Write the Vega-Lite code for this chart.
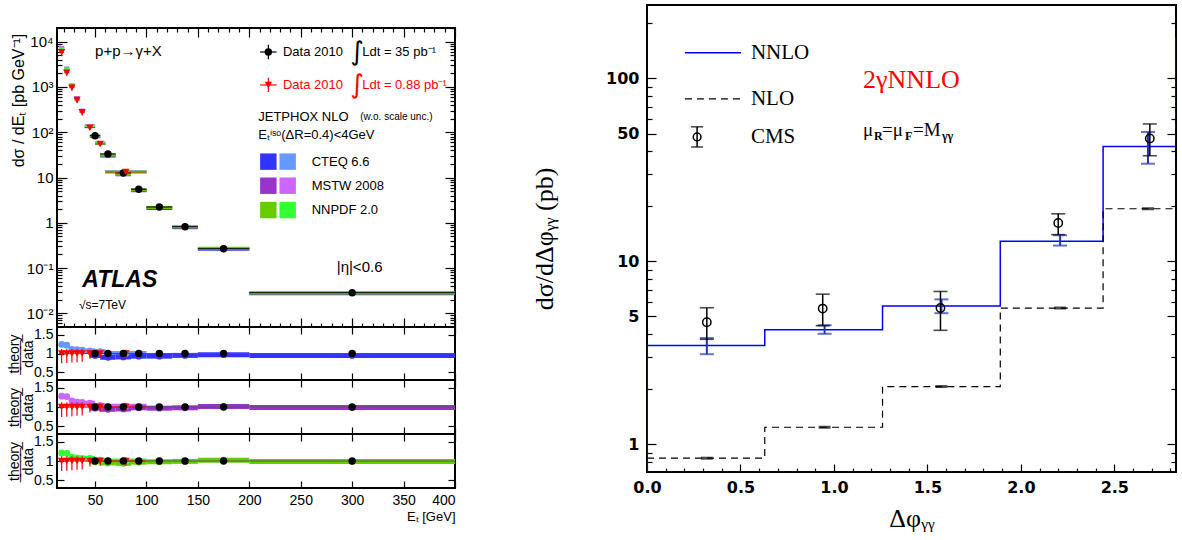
{
"$schema": "https://vega.github.io/schema/vega-lite/v6.json",
"background": "white",
"padding": {"left": 6, "top": 4, "right": 0, "bottom": 0},
"config": {
  "view": {"stroke": "black", "strokeWidth": 2},
  "axis": {"domain": false, "grid": false, "tickColor": "black", "labelColor": "black", "titleColor": "black", "tickWidth": 1.2, "labelOverlap": false}
},
"datasets": {
  "theory": [
    {"s":"cteq_l","pdf":"CTEQ","et":17.5,"xlo":15,"xhi":20,"val":7229,"ratio":1.24},
    {"s":"mstw_l","pdf":"MSTW","et":17.5,"xlo":15,"xhi":20,"val":7462,"ratio":1.28},
    {"s":"nnpdf_l","pdf":"NNPDF","et":17.5,"xlo":15,"xhi":20,"val":7054,"ratio":1.21},
    {"s":"cteq_l","pdf":"CTEQ","et":22.5,"xlo":20,"xhi":25,"val":2519,"ratio":1.22},
    {"s":"mstw_l","pdf":"MSTW","et":22.5,"xlo":20,"xhi":25,"val":2623,"ratio":1.27},
    {"s":"nnpdf_l","pdf":"NNPDF","et":22.5,"xlo":20,"xhi":25,"val":2478,"ratio":1.2},
    {"s":"cteq_l","pdf":"CTEQ","et":27.5,"xlo":25,"xhi":30,"val":1070,"ratio":1.11},
    {"s":"mstw_l","pdf":"MSTW","et":27.5,"xlo":25,"xhi":30,"val":1118,"ratio":1.16},
    {"s":"nnpdf_l","pdf":"NNPDF","et":27.5,"xlo":25,"xhi":30,"val":1060,"ratio":1.1},
    {"s":"cteq_l","pdf":"CTEQ","et":32.5,"xlo":30,"xhi":35,"val":567,"ratio":1.1},
    {"s":"mstw_l","pdf":"MSTW","et":32.5,"xlo":30,"xhi":35,"val":582,"ratio":1.13},
    {"s":"nnpdf_l","pdf":"NNPDF","et":32.5,"xlo":30,"xhi":35,"val":556,"ratio":1.08},
    {"s":"cteq_l","pdf":"CTEQ","et":37.5,"xlo":35,"xhi":40,"val":300,"ratio":1.09},
    {"s":"mstw_l","pdf":"MSTW","et":37.5,"xlo":35,"xhi":40,"val":308,"ratio":1.12},
    {"s":"nnpdf_l","pdf":"NNPDF","et":37.5,"xlo":35,"xhi":40,"val":294,"ratio":1.07},
    {"s":"cteq_l","pdf":"CTEQ","et":45,"xlo":40,"xhi":50,"val":135,"ratio":1.07},
    {"s":"mstw_l","pdf":"MSTW","et":45,"xlo":40,"xhi":50,"val":139,"ratio":1.1},
    {"s":"nnpdf_l","pdf":"NNPDF","et":45,"xlo":40,"xhi":50,"val":135,"ratio":1.07},
    {"s":"cteq_l","pdf":"CTEQ","et":55,"xlo":50,"xhi":60,"val":57.8,"ratio":1.05},
    {"s":"mstw_l","pdf":"MSTW","et":55,"xlo":50,"xhi":60,"val":57.2,"ratio":1.04},
    {"s":"nnpdf_l","pdf":"NNPDF","et":55,"xlo":50,"xhi":60,"val":56.1,"ratio":1.02},
    {"s":"cteq_l","pdf":"CTEQ","et":80,"xlo":60,"xhi":100,"val":13.2,"ratio":1.0},
    {"s":"mstw_l","pdf":"MSTW","et":80,"xlo":60,"xhi":100,"val":13.5,"ratio":1.02},
    {"s":"nnpdf_l","pdf":"NNPDF","et":80,"xlo":60,"xhi":100,"val":13.2,"ratio":1.0},
    {"s":"cteq_d","pdf":"CTEQ","et":50,"xlo":45,"xhi":55,"val":79.6,"ratio":0.95},
    {"s":"mstw_d","pdf":"MSTW","et":50,"xlo":45,"xhi":55,"val":81.3,"ratio":0.97},
    {"s":"nnpdf_d","pdf":"NNPDF","et":50,"xlo":45,"xhi":55,"val":82.1,"ratio":0.98},
    {"s":"cteq_d","pdf":"CTEQ","et":62.5,"xlo":55,"xhi":70,"val":29.8,"ratio":0.9},
    {"s":"mstw_d","pdf":"MSTW","et":62.5,"xlo":55,"xhi":70,"val":31.1,"ratio":0.94},
    {"s":"nnpdf_d","pdf":"NNPDF","et":62.5,"xlo":55,"xhi":70,"val":31.4,"ratio":0.95},
    {"s":"cteq_d","pdf":"CTEQ","et":77.5,"xlo":70,"xhi":85,"val":11.5,"ratio":0.91},
    {"s":"mstw_d","pdf":"MSTW","et":77.5,"xlo":70,"xhi":85,"val":12.0,"ratio":0.95},
    {"s":"nnpdf_d","pdf":"NNPDF","et":77.5,"xlo":70,"xhi":85,"val":11.8,"ratio":0.94},
    {"s":"cteq_d","pdf":"CTEQ","et":92.5,"xlo":85,"xhi":100,"val":5.11,"ratio":0.93},
    {"s":"mstw_d","pdf":"MSTW","et":92.5,"xlo":85,"xhi":100,"val":5.38,"ratio":0.98},
    {"s":"nnpdf_d","pdf":"NNPDF","et":92.5,"xlo":85,"xhi":100,"val":5.33,"ratio":0.97},
    {"s":"cteq_d","pdf":"CTEQ","et":112.5,"xlo":100,"xhi":125,"val":2.07,"ratio":0.93},
    {"s":"mstw_d","pdf":"MSTW","et":112.5,"xlo":100,"xhi":125,"val":2.16,"ratio":0.97},
    {"s":"nnpdf_d","pdf":"NNPDF","et":112.5,"xlo":100,"xhi":125,"val":2.19,"ratio":0.98},
    {"s":"cteq_d","pdf":"CTEQ","et":137.5,"xlo":125,"xhi":150,"val":0.779,"ratio":0.95},
    {"s":"mstw_d","pdf":"MSTW","et":137.5,"xlo":125,"xhi":150,"val":0.804,"ratio":0.98},
    {"s":"nnpdf_d","pdf":"NNPDF","et":137.5,"xlo":125,"xhi":150,"val":0.812,"ratio":0.99},
    {"s":"cteq_d","pdf":"CTEQ","et":175,"xlo":150,"xhi":200,"val":0.26,"ratio":0.97},
    {"s":"mstw_d","pdf":"MSTW","et":175,"xlo":150,"xhi":200,"val":0.271,"ratio":1.01},
    {"s":"nnpdf_d","pdf":"NNPDF","et":175,"xlo":150,"xhi":200,"val":0.273,"ratio":1.02},
    {"s":"cteq_d","pdf":"CTEQ","et":300,"xlo":200,"xhi":400,"val":0.0272,"ratio":0.95},
    {"s":"mstw_d","pdf":"MSTW","et":300,"xlo":200,"xhi":400,"val":0.0283,"ratio":0.99},
    {"s":"nnpdf_d","pdf":"NNPDF","et":300,"xlo":200,"xhi":400,"val":0.0283,"ratio":0.99}
  ],
  "pts": [
    {"set":"red","et":17.5,"xlo":15,"xhi":20,"val":5830,"elo":4950,"ehi":6700,"rlo":0.74,"rhi":1.12},
    {"set":"red","et":22.5,"xlo":20,"xhi":25,"val":2065,"elo":1750,"ehi":2380,"rlo":0.75,"rhi":1.12},
    {"set":"red","et":27.5,"xlo":25,"xhi":30,"val":964,"elo":820,"ehi":1110,"rlo":0.76,"rhi":1.12},
    {"set":"red","et":32.5,"xlo":30,"xhi":35,"val":515,"elo":440,"ehi":590,"rlo":0.77,"rhi":1.12},
    {"set":"red","et":37.5,"xlo":35,"xhi":40,"val":275,"elo":235,"ehi":315,"rlo":0.78,"rhi":1.12},
    {"set":"red","et":45,"xlo":40,"xhi":50,"val":126,"elo":112,"ehi":140,"rlo":0.86,"rhi":1.1},
    {"set":"red","et":55,"xlo":50,"xhi":60,"val":55,"elo":49,"ehi":61,"rlo":0.88,"rhi":1.09},
    {"set":"red","et":80,"xlo":60,"xhi":100,"val":13.2,"elo":12,"ehi":14.5,"rlo":0.88,"rhi":1.1},
    {"set":"black","et":50,"xlo":45,"xhi":55,"val":83.8,"elo":80,"ehi":88,"rlo":0.97,"rhi":1.03},
    {"set":"black","et":62.5,"xlo":55,"xhi":70,"val":33.1,"elo":31.6,"ehi":34.6,"rlo":0.97,"rhi":1.03},
    {"set":"black","et":77.5,"xlo":70,"xhi":85,"val":12.6,"elo":12.0,"ehi":13.2,"rlo":0.97,"rhi":1.03},
    {"set":"black","et":92.5,"xlo":85,"xhi":100,"val":5.49,"elo":5.24,"ehi":5.74,"rlo":0.97,"rhi":1.03},
    {"set":"black","et":112.5,"xlo":100,"xhi":125,"val":2.23,"elo":2.13,"ehi":2.33,"rlo":0.97,"rhi":1.03},
    {"set":"black","et":137.5,"xlo":125,"xhi":150,"val":0.82,"elo":0.78,"ehi":0.86,"rlo":0.97,"rhi":1.03},
    {"set":"black","et":175,"xlo":150,"xhi":200,"val":0.268,"elo":0.256,"ehi":0.28,"rlo":0.96,"rhi":1.04},
    {"set":"black","et":300,"xlo":200,"xhi":400,"val":0.0286,"elo":0.0272,"ehi":0.03,"rlo":0.95,"rhi":1.05}
  ],
  "nnlo": [
    {"i":0,"x":0,"y":0.5},{"i":1,"x":0,"y":3.47},{"i":2,"x":0.63,"y":4.23},{"i":3,"x":1.26,"y":5.71},
    {"i":4,"x":1.89,"y":12.9},{"i":5,"x":2.44,"y":42.5},{"i":6,"x":2.83,"y":167},{"i":7,"x":3.2,"y":167}
  ],
  "nlo": [
    {"i":0,"x":0,"y":0.84},{"i":1,"x":0.63,"y":1.24},{"i":2,"x":1.26,"y":2.07},{"i":3,"x":1.89,"y":5.56},
    {"i":4,"x":2.44,"y":19.4},{"i":5,"x":2.83,"y":60},{"i":6,"x":3.2,"y":60}
  ],
  "bins": [
    {"xn":0.32,"xc":0.32,"nlo":0.84,"lo":3.11,"hi":3.81,"cms":4.65,"clo":3.75,"chi":5.58},
    {"xn":0.95,"xc":0.94,"nlo":1.24,"lo":4.02,"hi":4.48,"cms":5.52,"clo":4.45,"chi":6.62},
    {"xn":1.575,"xc":1.57,"nlo":2.07,"lo":5.21,"hi":6.2,"cms":5.56,"clo":4.2,"chi":6.85},
    {"xn":2.21,"xc":2.2,"nlo":5.56,"lo":12.2,"hi":13.9,"cms":16.2,"clo":14.0,"chi":18.2},
    {"xn":2.68,"xc":2.69,"nlo":19.4,"lo":34.2,"hi":51.0,"cms":47,"clo":37.8,"chi":56.4}
  ]
},
"hconcat": [
  {
    "spacing": 0,
    "bounds": "flush",
    "vconcat": [
      {
        "width": 398, "height": 23,
        "view": {"stroke": null},
        "data": {"values": [{}]},
        "mark": {"type": "text"},
        "encoding": {"text": {"value": ""}}
      },
      {
        "width": 398, "height": 299,
        "layer": [
          {"data": {"name": "theory"},
           "mark": {"type": "rule", "strokeWidth": 3, "clip": true},
           "encoding": {
             "x": {"field": "xlo", "type": "quantitative", "scale": {"domain": [13, 400], "nice": false, "zero": false},
                   "axis": {"orient": "bottom", "values": [20,30,40,50,60,70,80,90,100,110,120,130,140,150,160,170,180,190,200,210,220,230,240,250,260,270,280,290,300,310,320,330,340,350,360,370,380,390,400], "labels": false, "title": null,
                            "tickSize": {"condition": {"test": "datum.value % 50 == 0", "value": -9}, "value": -4}}},
             "x2": {"field": "xhi"},
             "y": {"field": "val", "type": "quantitative", "scale": {"type": "log", "domain": [0.005, 20000], "nice": false},
                   "axis": {"orient": "left", "values": [0.006,0.007,0.008,0.009,0.01,0.02,0.03,0.04,0.05,0.06,0.07,0.08,0.09,0.1,0.2,0.3,0.4,0.5,0.6,0.7,0.8,0.9,1,2,3,4,5,6,7,8,9,10,20,30,40,50,60,70,80,90,100,200,300,400,500,600,700,800,900,1000,2000,3000,4000,5000,6000,7000,8000,9000,10000,20000],
                            "labelExpr": "abs(log(datum.value)/LN10 - round(log(datum.value)/LN10)) < 0.01 ? ['10⁻²','10⁻¹','1','10','10²','10³','10⁴'][round(log(datum.value)/LN10)+2] : ''",
                            "tickSize": {"condition": {"test": "abs(log(datum.value)/LN10 - round(log(datum.value)/LN10)) < 0.01", "value": -10}, "value": -5},
                            "labelOverlap": false,
                            "labelFont": "Liberation Sans", "labelFontSize": 15, "labelPadding": 14,
                            "title": "dσ / dEₜ [pb GeV⁻¹]", "titleFont": "Liberation Sans", "titleFontSize": 16, "titleFontWeight": "normal",
                            "titleX": -39, "titleY": 72, "titleAngle": -90, "titleAlign": "center", "titleBaseline": "middle"}},
             "color": {"field": "s", "type": "nominal", "legend": null,
                       "scale": {"domain": ["cteq_d","cteq_l","mstw_d","mstw_l","nnpdf_d","nnpdf_l"], "range": ["#3333ff","#6699ff","#9933cc","#cc66ff","#66cc00","#33ff33"]}}
           }},
          {"data": {"name": "pts"}, "transform": [{"filter": "datum.set == 'black'"}],
           "mark": {"type": "rule", "strokeWidth": 1, "color": "black", "clip": true},
           "encoding": {
             "x": {"field": "xlo", "type": "quantitative",
                   "axis": {"orient": "top", "values": [20,30,40,50,60,70,80,90,100,110,120,130,140,150,160,170,180,190,200,210,220,230,240,250,260,270,280,290,300,310,320,330,340,350,360,370,380,390,400], "labels": false, "title": null,
                            "tickSize": {"condition": {"test": "datum.value % 50 == 0", "value": -9}, "value": -4}}},
             "x2": {"field": "xhi"},
             "y": {"field": "val", "type": "quantitative",
                   "axis": {"orient": "right", "values": [0.006,0.007,0.008,0.009,0.01,0.02,0.03,0.04,0.05,0.06,0.07,0.08,0.09,0.1,0.2,0.3,0.4,0.5,0.6,0.7,0.8,0.9,1,2,3,4,5,6,7,8,9,10,20,30,40,50,60,70,80,90,100,200,300,400,500,600,700,800,900,1000,2000,3000,4000,5000,6000,7000,8000,9000,10000,20000], "labels": false, "title": null,
                            "tickSize": {"condition": {"test": "abs(log(datum.value)/LN10 - round(log(datum.value)/LN10)) < 0.01", "value": -10}, "value": -5}}}
           }},
          {"data": {"name": "pts"}, "transform": [{"filter": "datum.set == 'red'"}],
           "mark": {"type": "rule", "strokeWidth": 1, "color": "#ff0000", "clip": true},
           "encoding": {"x": {"field": "xlo", "type": "quantitative", "axis": null}, "x2": {"field": "xhi"}, "y": {"field": "val", "type": "quantitative", "axis": null}}},
          {"data": {"name": "pts"}, "transform": [{"filter": "datum.set == 'red'"}],
           "mark": {"type": "rule", "strokeWidth": 1.2, "color": "#ff0000", "clip": true},
           "encoding": {"x": {"field": "et", "type": "quantitative", "axis": null}, "y": {"field": "elo", "type": "quantitative", "axis": null}, "y2": {"field": "ehi"}}},
          {"data": {"name": "pts"}, "transform": [{"filter": "datum.set == 'black'"}],
           "mark": {"type": "rule", "strokeWidth": 1.2, "color": "black", "clip": true},
           "encoding": {"x": {"field": "et", "type": "quantitative", "axis": null}, "y": {"field": "elo", "type": "quantitative", "axis": null}, "y2": {"field": "ehi"}}},
          {"data": {"name": "pts"}, "transform": [{"filter": "datum.set == 'black'"}],
           "mark": {"type": "circle", "size": 55, "opacity": 1, "color": "black", "clip": true},
           "encoding": {"x": {"field": "et", "type": "quantitative", "axis": null}, "y": {"field": "val", "type": "quantitative", "axis": null}}},
          {"data": {"name": "pts"}, "transform": [{"filter": "datum.set == 'red'"}],
           "mark": {"type": "point", "shape": "triangle-down", "filled": true, "size": 55, "opacity": 1, "color": "#ff0000", "clip": true},
           "encoding": {"x": {"field": "et", "type": "quantitative", "axis": null}, "y": {"field": "val", "type": "quantitative", "axis": null}}},
          {"data": {"values": [{"x": 210.5, "x2": 226.5, "y": 5900}]},
           "mark": {"type": "rule", "strokeWidth": 1.2, "color": "black"},
           "encoding": {"x": {"field": "x", "type": "quantitative", "axis": null}, "x2": {"field": "x2"}, "y": {"field": "y", "type": "quantitative", "axis": null}}},
          {"data": {"values": [{"x": 218.5, "y": 4100, "y2": 8500}]},
           "mark": {"type": "rule", "strokeWidth": 1.2, "color": "black"},
           "encoding": {"x": {"field": "x", "type": "quantitative", "axis": null}, "y": {"field": "y", "type": "quantitative", "axis": null}, "y2": {"field": "y2"}}},
          {"data": {"values": [{"x": 210.5, "x2": 226.5, "y": 1104}]},
           "mark": {"type": "rule", "strokeWidth": 1.2, "color": "#ff0000"},
           "encoding": {"x": {"field": "x", "type": "quantitative", "axis": null}, "x2": {"field": "x2"}, "y": {"field": "y", "type": "quantitative", "axis": null}}},
          {"data": {"values": [{"x": 218.5, "y": 770, "y2": 1590}]},
           "mark": {"type": "rule", "strokeWidth": 1.2, "color": "#ff0000"},
           "encoding": {"x": {"field": "x", "type": "quantitative", "axis": null}, "y": {"field": "y", "type": "quantitative", "axis": null}, "y2": {"field": "y2"}}},
          {"data": {"values": [{"x": 218.5, "y": 5900}]},
           "mark": {"type": "circle", "size": 55, "opacity": 1, "color": "black"},
           "encoding": {"x": {"field": "x", "type": "quantitative", "axis": null}, "y": {"field": "y", "type": "quantitative", "axis": null}}},
          {"data": {"values": [{"x": 218.5, "y": 1104}]},
           "mark": {"type": "point", "shape": "triangle-down", "filled": true, "size": 55, "opacity": 1, "color": "#ff0000"},
           "encoding": {"x": {"field": "x", "type": "quantitative", "axis": null}, "y": {"field": "y", "type": "quantitative", "axis": null}}},
          {"data": {"values": [
              {"x": 218.5, "y": 22.4, "s": "cteq_d"}, {"x": 237.3, "y": 22.4, "s": "cteq_l"},
              {"x": 218.5, "y": 6.59, "s": "mstw_d"}, {"x": 237.3, "y": 6.59, "s": "mstw_l"},
              {"x": 218.5, "y": 1.91, "s": "nnpdf_d"}, {"x": 237.3, "y": 1.91, "s": "nnpdf_l"}]},
           "mark": {"type": "square", "size": 270, "opacity": 1},
           "encoding": {"x": {"field": "x", "type": "quantitative", "axis": null}, "y": {"field": "y", "type": "quantitative", "axis": null},
                        "color": {"field": "s", "type": "nominal", "legend": null,
                                  "scale": {"domain": ["cteq_d","cteq_l","mstw_d","mstw_l","nnpdf_d","nnpdf_l"], "range": ["#3333ff","#6699ff","#9933cc","#cc66ff","#66cc00","#33ff33"]}}}},
          {"data": {"values": [
              {"x": 232.7, "y": 5900, "t": "Data 2010"}, {"x": 309.8, "y": 5900, "t": "Ldt = 35 pb⁻¹"},
              {"x": 208.7, "y": 213.8, "t": "JETPHOX NLO"}, {"x": 208.7, "y": 86.9, "t": "Eₜⁱˢᵒ(ΔR=0.4)<4GeV"},
              {"x": 260.6, "y": 22.4, "t": "CTEQ 6.6"}, {"x": 260.6, "y": 6.59, "t": "MSTW 2008"}, {"x": 260.6, "y": 1.91, "t": "NNPDF 2.0"}]},
           "mark": {"type": "text", "align": "left", "baseline": "middle", "font": "Liberation Sans", "fontSize": 13, "color": "black"},
           "encoding": {"x": {"field": "x", "type": "quantitative", "axis": null}, "y": {"field": "y", "type": "quantitative", "axis": null}, "text": {"field": "t"}}},
          {"data": {"values": [{"x": 232.7, "y": 1104, "t": "Data 2010"}, {"x": 309.8, "y": 1104, "t": "Ldt = 0.88 pb⁻¹"}]},
           "mark": {"type": "text", "align": "left", "baseline": "middle", "font": "Liberation Sans", "fontSize": 13, "color": "#ff0000"},
           "encoding": {"x": {"field": "x", "type": "quantitative", "axis": null}, "y": {"field": "y", "type": "quantitative", "axis": null}, "text": {"field": "t"}}},
          {"data": {"values": [{"x": 304.7, "y": 5900, "t": "∫"}]},
           "mark": {"type": "text", "align": "center", "baseline": "middle", "font": "DejaVu Sans", "fontSize": 26, "color": "black"},
           "encoding": {"x": {"field": "x", "type": "quantitative", "axis": null}, "y": {"field": "y", "type": "quantitative", "axis": null}, "text": {"field": "t"}}},
          {"data": {"values": [{"x": 304.7, "y": 1104, "t": "∫"}]},
           "mark": {"type": "text", "align": "center", "baseline": "middle", "font": "DejaVu Sans", "fontSize": 26, "color": "#ff0000"},
           "encoding": {"x": {"field": "x", "type": "quantitative", "axis": null}, "y": {"field": "y", "type": "quantitative", "axis": null}, "text": {"field": "t"}}},
          {"data": {"values": [{"x": 50, "y": 6240, "t": "p+p→γ+X"}, {"x": 285, "y": 0.107, "t": "|η|<0.6"}]},
           "mark": {"type": "text", "align": "left", "baseline": "middle", "font": "Liberation Sans", "fontSize": 15, "color": "black"},
           "encoding": {"x": {"field": "x", "type": "quantitative", "axis": null}, "y": {"field": "y", "type": "quantitative", "axis": null}, "text": {"field": "t"}}},
          {"data": {"values": [{"x": 307.9, "y": 213.8, "t": "(w.o. scale unc.)"}]},
           "mark": {"type": "text", "align": "left", "baseline": "middle", "font": "Liberation Sans", "fontSize": 10, "color": "black"},
           "encoding": {"x": {"field": "x", "type": "quantitative", "axis": null}, "y": {"field": "y", "type": "quantitative", "axis": null}, "text": {"field": "t"}}},
          {"data": {"values": [{"x": 37.6, "y": 0.0545, "t": "ATLAS"}]},
           "mark": {"type": "text", "align": "left", "baseline": "middle", "font": "Liberation Sans", "fontSize": 23, "fontWeight": "bold", "fontStyle": "italic", "color": "black"},
           "encoding": {"x": {"field": "x", "type": "quantitative", "axis": null}, "y": {"field": "y", "type": "quantitative", "axis": null}, "text": {"field": "t"}}},
          {"data": {"values": [{"x": 34.4, "y": 0.01527, "t": "√s=7TeV"}]},
           "mark": {"type": "text", "align": "left", "baseline": "middle", "font": "Liberation Sans", "fontSize": 12, "color": "black"},
           "encoding": {"x": {"field": "x", "type": "quantitative", "axis": null}, "y": {"field": "y", "type": "quantitative", "axis": null}, "text": {"field": "t"}}}
        ],
        "resolve": {"axis": {"x": "independent", "y": "independent"}}
      },
      {
        "width": 398, "height": 53,
        "layer": [
          {"data": {"name": "theory"}, "transform": [{"filter": "datum.pdf == 'CTEQ'"}],
           "mark": {"type": "rule", "strokeWidth": 5, "clip": true},
           "encoding": {
             "x": {"field": "xlo", "type": "quantitative", "scale": {"domain": [13, 400], "nice": false, "zero": false},
                   "axis": {"orient": "bottom", "values": [50,100,150,200,250,300,350,400], "labels": false, "title": null, "tickSize": -7}},
             "x2": {"field": "xhi"},
             "y": {"field": "ratio", "type": "quantitative", "scale": {"domain": [0.3, 1.7], "nice": false, "zero": false},
                   "axis": {"orient": "left", "values": [0.5, 1, 1.5], "labelExpr": "datum.value == 1 ? '1' : format(datum.value, '.1f')", "tickSize": -7, "labelFont": "Liberation Sans", "labelFontSize": 14, "labelPadding": 11, "labelOverlap": false,
                            "title": ["t\u0332h\u0332e\u0332o\u0332r\u0332y\u0332", "data"], "titleFont": "Liberation Sans", "titleFontSize": 14, "titleFontWeight": "normal", "titleLineHeight": 14,
                            "titleX": -43, "titleY": 26.5, "titleAngle": -90, "titleAlign": "center", "titleBaseline": "middle"}},
             "color": {"field": "s", "type": "nominal", "legend": null,
                       "scale": {"domain": ["cteq_d","cteq_l","mstw_d","mstw_l","nnpdf_d","nnpdf_l"], "range": ["#3333ff","#6699ff","#9933cc","#cc66ff","#66cc00","#33ff33"]}}
           }},
          {"data": {"name": "theory"}, "transform": [{"filter": "datum.pdf == 'CTEQ'"}],
           "mark": {"type": "circle", "size": 45, "opacity": 1, "clip": true},
           "encoding": {
             "x": {"field": "et", "type": "quantitative", "axis": {"orient": "top", "values": [50,100,150,200,250,300,350,400], "labels": false, "title": null, "tickSize": -7}},
             "y": {"field": "ratio", "type": "quantitative", "axis": {"orient": "right", "values": [0.5, 1, 1.5], "labels": false, "title": null, "tickSize": -7}},
             "color": {"field": "s", "type": "nominal", "legend": null,
                       "scale": {"domain": ["cteq_d","cteq_l","mstw_d","mstw_l","nnpdf_d","nnpdf_l"], "range": ["#3333ff","#6699ff","#9933cc","#cc66ff","#66cc00","#33ff33"]}}
           }},
          {"data": {"values": [{"a": 45, "b": 400}]},
           "mark": {"type": "rule", "color": "#555555", "strokeWidth": 1},
           "encoding": {"x": {"field": "a", "type": "quantitative", "axis": null}, "x2": {"field": "b"}, "y": {"datum": 1, "type": "quantitative", "axis": null}}},
          {"data": {"name": "pts"}, "transform": [{"filter": "datum.set == 'red'"}],
           "mark": {"type": "rule", "strokeWidth": 1.2, "color": "#ff0000", "clip": true},
           "encoding": {"x": {"field": "et", "type": "quantitative", "axis": null}, "y": {"field": "rlo", "type": "quantitative", "axis": null}, "y2": {"field": "rhi"}}},
          {"data": {"name": "pts"}, "transform": [{"filter": "datum.set == 'black'"}],
           "mark": {"type": "rule", "strokeWidth": 1.2, "color": "black", "clip": true},
           "encoding": {"x": {"field": "et", "type": "quantitative", "axis": null}, "y": {"field": "rlo", "type": "quantitative", "axis": null}, "y2": {"field": "rhi"}}},
          {"data": {"name": "pts"}, "transform": [{"filter": "datum.set == 'red'"}],
           "mark": {"type": "rule", "strokeWidth": 1.2, "color": "#ff0000", "clip": true},
           "encoding": {"x": {"field": "xlo", "type": "quantitative", "axis": null}, "x2": {"field": "xhi"}, "y": {"datum": 1, "type": "quantitative", "axis": null}}},
          {"data": {"name": "pts"}, "transform": [{"filter": "datum.set == 'red'"}],
           "mark": {"type": "point", "shape": "triangle-down", "filled": true, "size": 55, "opacity": 1, "color": "#ff0000", "clip": true},
           "encoding": {"x": {"field": "et", "type": "quantitative", "axis": null}, "y": {"datum": 1, "type": "quantitative", "axis": null}}},
          {"data": {"name": "pts"}, "transform": [{"filter": "datum.set == 'black'"}],
           "mark": {"type": "circle", "size": 55, "opacity": 1, "color": "black", "clip": true},
           "encoding": {"x": {"field": "et", "type": "quantitative", "axis": null}, "y": {"datum": 1, "type": "quantitative", "axis": null}}}
        ],
        "resolve": {"axis": {"x": "independent", "y": "independent"}}
      },
      {
        "width": 398, "height": 54,
        "layer": [
          {"data": {"name": "theory"}, "transform": [{"filter": "datum.pdf == 'MSTW'"}],
           "mark": {"type": "rule", "strokeWidth": 5, "clip": true},
           "encoding": {
             "x": {"field": "xlo", "type": "quantitative", "scale": {"domain": [13, 400], "nice": false, "zero": false},
                   "axis": {"orient": "bottom", "values": [50,100,150,200,250,300,350,400], "labels": false, "title": null, "tickSize": -7}},
             "x2": {"field": "xhi"},
             "y": {"field": "ratio", "type": "quantitative", "scale": {"domain": [0.3, 1.7], "nice": false, "zero": false},
                   "axis": {"orient": "left", "values": [0.5, 1, 1.5], "labelExpr": "datum.value == 1 ? '1' : format(datum.value, '.1f')", "tickSize": -7, "labelFont": "Liberation Sans", "labelFontSize": 14, "labelPadding": 11, "labelOverlap": false,
                            "title": ["t\u0332h\u0332e\u0332o\u0332r\u0332y\u0332", "data"], "titleFont": "Liberation Sans", "titleFontSize": 14, "titleFontWeight": "normal", "titleLineHeight": 14,
                            "titleX": -43, "titleY": 27, "titleAngle": -90, "titleAlign": "center", "titleBaseline": "middle"}},
             "color": {"field": "s", "type": "nominal", "legend": null,
                       "scale": {"domain": ["cteq_d","cteq_l","mstw_d","mstw_l","nnpdf_d","nnpdf_l"], "range": ["#3333ff","#6699ff","#9933cc","#cc66ff","#66cc00","#33ff33"]}}
           }},
          {"data": {"name": "theory"}, "transform": [{"filter": "datum.pdf == 'MSTW'"}],
           "mark": {"type": "circle", "size": 45, "opacity": 1, "clip": true},
           "encoding": {
             "x": {"field": "et", "type": "quantitative", "axis": {"orient": "top", "values": [50,100,150,200,250,300,350,400], "labels": false, "title": null, "tickSize": -7}},
             "y": {"field": "ratio", "type": "quantitative", "axis": {"orient": "right", "values": [0.5, 1, 1.5], "labels": false, "title": null, "tickSize": -7}},
             "color": {"field": "s", "type": "nominal", "legend": null,
                       "scale": {"domain": ["cteq_d","cteq_l","mstw_d","mstw_l","nnpdf_d","nnpdf_l"], "range": ["#3333ff","#6699ff","#9933cc","#cc66ff","#66cc00","#33ff33"]}}
           }},
          {"data": {"values": [{"a": 45, "b": 400}]},
           "mark": {"type": "rule", "color": "#555555", "strokeWidth": 1},
           "encoding": {"x": {"field": "a", "type": "quantitative", "axis": null}, "x2": {"field": "b"}, "y": {"datum": 1, "type": "quantitative", "axis": null}}},
          {"data": {"name": "pts"}, "transform": [{"filter": "datum.set == 'red'"}],
           "mark": {"type": "rule", "strokeWidth": 1.2, "color": "#ff0000", "clip": true},
           "encoding": {"x": {"field": "et", "type": "quantitative", "axis": null}, "y": {"field": "rlo", "type": "quantitative", "axis": null}, "y2": {"field": "rhi"}}},
          {"data": {"name": "pts"}, "transform": [{"filter": "datum.set == 'black'"}],
           "mark": {"type": "rule", "strokeWidth": 1.2, "color": "black", "clip": true},
           "encoding": {"x": {"field": "et", "type": "quantitative", "axis": null}, "y": {"field": "rlo", "type": "quantitative", "axis": null}, "y2": {"field": "rhi"}}},
          {"data": {"name": "pts"}, "transform": [{"filter": "datum.set == 'red'"}],
           "mark": {"type": "rule", "strokeWidth": 1.2, "color": "#ff0000", "clip": true},
           "encoding": {"x": {"field": "xlo", "type": "quantitative", "axis": null}, "x2": {"field": "xhi"}, "y": {"datum": 1, "type": "quantitative", "axis": null}}},
          {"data": {"name": "pts"}, "transform": [{"filter": "datum.set == 'red'"}],
           "mark": {"type": "point", "shape": "triangle-down", "filled": true, "size": 55, "opacity": 1, "color": "#ff0000", "clip": true},
           "encoding": {"x": {"field": "et", "type": "quantitative", "axis": null}, "y": {"datum": 1, "type": "quantitative", "axis": null}}},
          {"data": {"name": "pts"}, "transform": [{"filter": "datum.set == 'black'"}],
           "mark": {"type": "circle", "size": 55, "opacity": 1, "color": "black", "clip": true},
           "encoding": {"x": {"field": "et", "type": "quantitative", "axis": null}, "y": {"datum": 1, "type": "quantitative", "axis": null}}}
        ],
        "resolve": {"axis": {"x": "independent", "y": "independent"}}
      },
      {
        "width": 398, "height": 54,
        "layer": [
          {"data": {"name": "theory"}, "transform": [{"filter": "datum.pdf == 'NNPDF'"}],
           "mark": {"type": "rule", "strokeWidth": 5, "clip": true},
           "encoding": {
             "x": {"field": "xlo", "type": "quantitative", "scale": {"domain": [13, 400], "nice": false, "zero": false},
                   "axis": {"orient": "bottom", "values": [50,100,150,200,250,300,350,400], "tickSize": -7, "labelFont": "Liberation Sans", "labelFontSize": 14, "labelPadding": 12, "labelFlush": true, "labelOverlap": false,
                            "title": "Eₜ [GeV]", "titleFont": "Liberation Sans", "titleFontSize": 13, "titleFontWeight": "normal", "titleAnchor": "end", "titlePadding": 3}},
             "x2": {"field": "xhi"},
             "y": {"field": "ratio", "type": "quantitative", "scale": {"domain": [0.3, 1.7], "nice": false, "zero": false},
                   "axis": {"orient": "left", "values": [0.5, 1, 1.5], "labelExpr": "datum.value == 1 ? '1' : format(datum.value, '.1f')", "tickSize": -7, "labelFont": "Liberation Sans", "labelFontSize": 14, "labelPadding": 11, "labelOverlap": false,
                            "title": ["t\u0332h\u0332e\u0332o\u0332r\u0332y\u0332", "data"], "titleFont": "Liberation Sans", "titleFontSize": 14, "titleFontWeight": "normal", "titleLineHeight": 14,
                            "titleX": -43, "titleY": 27, "titleAngle": -90, "titleAlign": "center", "titleBaseline": "middle"}},
             "color": {"field": "s", "type": "nominal", "legend": null,
                       "scale": {"domain": ["cteq_d","cteq_l","mstw_d","mstw_l","nnpdf_d","nnpdf_l"], "range": ["#3333ff","#6699ff","#9933cc","#cc66ff","#66cc00","#33ff33"]}}
           }},
          {"data": {"name": "theory"}, "transform": [{"filter": "datum.pdf == 'NNPDF'"}],
           "mark": {"type": "circle", "size": 45, "opacity": 1, "clip": true},
           "encoding": {
             "x": {"field": "et", "type": "quantitative", "axis": {"orient": "top", "values": [50,100,150,200,250,300,350,400], "labels": false, "title": null, "tickSize": -7}},
             "y": {"field": "ratio", "type": "quantitative", "axis": {"orient": "right", "values": [0.5, 1, 1.5], "labels": false, "title": null, "tickSize": -7}},
             "color": {"field": "s", "type": "nominal", "legend": null,
                       "scale": {"domain": ["cteq_d","cteq_l","mstw_d","mstw_l","nnpdf_d","nnpdf_l"], "range": ["#3333ff","#6699ff","#9933cc","#cc66ff","#66cc00","#33ff33"]}}
           }},
          {"data": {"values": [{"a": 45, "b": 400}]},
           "mark": {"type": "rule", "color": "#555555", "strokeWidth": 1},
           "encoding": {"x": {"field": "a", "type": "quantitative", "axis": null}, "x2": {"field": "b"}, "y": {"datum": 1, "type": "quantitative", "axis": null}}},
          {"data": {"name": "pts"}, "transform": [{"filter": "datum.set == 'red'"}],
           "mark": {"type": "rule", "strokeWidth": 1.2, "color": "#ff0000", "clip": true},
           "encoding": {"x": {"field": "et", "type": "quantitative", "axis": null}, "y": {"field": "rlo", "type": "quantitative", "axis": null}, "y2": {"field": "rhi"}}},
          {"data": {"name": "pts"}, "transform": [{"filter": "datum.set == 'black'"}],
           "mark": {"type": "rule", "strokeWidth": 1.2, "color": "black", "clip": true},
           "encoding": {"x": {"field": "et", "type": "quantitative", "axis": null}, "y": {"field": "rlo", "type": "quantitative", "axis": null}, "y2": {"field": "rhi"}}},
          {"data": {"name": "pts"}, "transform": [{"filter": "datum.set == 'red'"}],
           "mark": {"type": "rule", "strokeWidth": 1.2, "color": "#ff0000", "clip": true},
           "encoding": {"x": {"field": "xlo", "type": "quantitative", "axis": null}, "x2": {"field": "xhi"}, "y": {"datum": 1, "type": "quantitative", "axis": null}}},
          {"data": {"name": "pts"}, "transform": [{"filter": "datum.set == 'red'"}],
           "mark": {"type": "point", "shape": "triangle-down", "filled": true, "size": 55, "opacity": 1, "color": "#ff0000", "clip": true},
           "encoding": {"x": {"field": "et", "type": "quantitative", "axis": null}, "y": {"datum": 1, "type": "quantitative", "axis": null}}},
          {"data": {"name": "pts"}, "transform": [{"filter": "datum.set == 'black'"}],
           "mark": {"type": "circle", "size": 55, "opacity": 1, "color": "black", "clip": true},
           "encoding": {"x": {"field": "et", "type": "quantitative", "axis": null}, "y": {"datum": 1, "type": "quantitative", "axis": null}}}
        ],
        "resolve": {"axis": {"x": "independent", "y": "independent"}}
      }
    ]
  },
  {
    "width": 529, "height": 467,
    "layer": [
      {"data": {"name": "nnlo"},
       "mark": {"type": "line", "interpolate": "step-after", "color": "#0000ff", "strokeWidth": 1.5, "clip": true},
       "encoding": {
         "x": {"field": "x", "type": "quantitative", "scale": {"domain": [0, 2.83], "nice": false, "zero": false},
               "axis": {"orient": "bottom", "values": [0, 0.5, 1, 1.5, 2, 2.5], "format": ".1f",
                        "tickSize": -8, "labelOverlap": false,
                        "labelFont": "DejaVu Sans", "labelFontWeight": "bold", "labelFontSize": 16, "labelPadding": 15, "labelFlush": false,
                        "title": "Δφᵧᵧ", "titleFont": "Liberation Serif", "titleFontSize": 26, "titleFontWeight": "normal", "titlePadding": 10}},
         "y": {"field": "y", "type": "quantitative", "scale": {"type": "log", "domain": [0.706, 252], "nice": false},
               "axis": {"orient": "left", "values": [0.8,0.9,1,2,3,4,5,6,7,8,9,10,20,30,40,50,60,70,80,90,100,200],
                        "labelExpr": "(datum.value==1||datum.value==5||datum.value==10||datum.value==50||datum.value==100) ? format(datum.value,'d') : ''",
                        "tickSize": {"condition": {"test": "datum.value==1||datum.value==5||datum.value==10||datum.value==50||datum.value==100", "value": -9}, "value": -5},
                        "labelOverlap": false,
                        "labelFont": "DejaVu Sans", "labelFontWeight": "bold", "labelFontSize": 16, "labelPadding": 17,
                        "title": "dσ/dΔφᵧᵧ  (pb)", "titleFont": "Liberation Serif", "titleFontSize": 26, "titleFontWeight": "normal",
                        "titleX": -103, "titleY": 233.5, "titleAngle": -90, "titleAlign": "center", "titleBaseline": "middle"}},
         "order": {"field": "i"}
       }},
      {"data": {"name": "nlo"},
       "mark": {"type": "line", "interpolate": "step-after", "color": "black", "strokeWidth": 1.2, "strokeDash": [7, 5], "clip": true},
       "encoding": {
         "x": {"field": "x", "type": "quantitative",
               "axis": {"orient": "bottom", "values": [0.1,0.2,0.3,0.4,0.6,0.7,0.8,0.9,1.1,1.2,1.3,1.4,1.6,1.7,1.8,1.9,2.1,2.2,2.3,2.4,2.6,2.7,2.8], "labels": false, "title": null, "tickSize": -4}},
         "y": {"field": "y", "type": "quantitative",
               "axis": {"orient": "right", "values": [0.8,0.9,1,2,3,4,5,6,7,8,9,10,20,30,40,50,60,70,80,90,100,200], "labels": false, "title": null,
                        "tickSize": {"condition": {"test": "datum.value==1||datum.value==5||datum.value==10||datum.value==50||datum.value==100", "value": -9}, "value": -5}}},
         "order": {"field": "i"}
       }},
      {"data": {"name": "bins"},
       "mark": {"type": "tick", "orient": "horizontal", "size": 12, "thickness": 3, "color": "black"},
       "encoding": {"x": {"field": "xn", "type": "quantitative", "axis": null}, "y": {"field": "nlo", "type": "quantitative", "axis": null}}},
      {"data": {"name": "bins"},
       "mark": {"type": "rule", "strokeWidth": 2, "color": "#2233bb"},
       "encoding": {"x": {"field": "xn", "type": "quantitative", "axis": null}, "y": {"field": "lo", "type": "quantitative", "axis": null}, "y2": {"field": "hi"}}},
      {"data": {"name": "bins"},
       "mark": {"type": "tick", "orient": "horizontal", "size": 14, "thickness": 2, "color": "#2233bb"},
       "encoding": {"x": {"field": "xn", "type": "quantitative", "axis": null}, "y": {"field": "lo", "type": "quantitative", "axis": null}}},
      {"data": {"name": "bins"},
       "mark": {"type": "tick", "orient": "horizontal", "size": 14, "thickness": 2, "color": "#2233bb"},
       "encoding": {"x": {"field": "xn", "type": "quantitative", "axis": null}, "y": {"field": "hi", "type": "quantitative", "axis": null}}},
      {"data": {"name": "bins"},
       "mark": {"type": "rule", "strokeWidth": 1.5, "color": "black"},
       "encoding": {"x": {"field": "xc", "type": "quantitative", "axis": null}, "y": {"field": "clo", "type": "quantitative", "axis": null}, "y2": {"field": "chi"}}},
      {"data": {"name": "bins"},
       "mark": {"type": "tick", "orient": "horizontal", "size": 14, "thickness": 1.6, "color": "black"},
       "encoding": {"x": {"field": "xc", "type": "quantitative", "axis": null}, "y": {"field": "clo", "type": "quantitative", "axis": null}}},
      {"data": {"name": "bins"},
       "mark": {"type": "tick", "orient": "horizontal", "size": 14, "thickness": 1.6, "color": "black"},
       "encoding": {"x": {"field": "xc", "type": "quantitative", "axis": null}, "y": {"field": "chi", "type": "quantitative", "axis": null}}},
      {"data": {"name": "bins"},
       "mark": {"type": "point", "shape": "circle", "size": 70, "filled": false, "strokeWidth": 1.5, "color": "black", "opacity": 1},
       "encoding": {"x": {"field": "xc", "type": "quantitative", "axis": null}, "y": {"field": "cms", "type": "quantitative", "axis": null}}},
      {"data": {"values": [{"x": 0.203, "x2": 0.503, "y": 138}]},
       "mark": {"type": "rule", "color": "#0000ff", "strokeWidth": 1.5},
       "encoding": {"x": {"field": "x", "type": "quantitative", "axis": null}, "x2": {"field": "x2"}, "y": {"field": "y", "type": "quantitative", "axis": null}}},
      {"data": {"values": [{"x": 0.203, "x2": 0.503, "y": 77.3}]},
       "mark": {"type": "rule", "color": "black", "strokeWidth": 1.2, "strokeDash": [7, 5]},
       "encoding": {"x": {"field": "x", "type": "quantitative", "axis": null}, "x2": {"field": "x2"}, "y": {"field": "y", "type": "quantitative", "axis": null}}},
      {"data": {"values": [{"x": 0.268, "lo": 42.2, "hi": 54.4}]},
       "mark": {"type": "rule", "color": "black", "strokeWidth": 1.5},
       "encoding": {"x": {"field": "x", "type": "quantitative", "axis": null}, "y": {"field": "lo", "type": "quantitative", "axis": null}, "y2": {"field": "hi"}}},
      {"data": {"values": [{"x": 0.268, "y": 42.2}, {"x": 0.268, "y": 54.4}]},
       "mark": {"type": "tick", "orient": "horizontal", "size": 12, "thickness": 1.6, "color": "black"},
       "encoding": {"x": {"field": "x", "type": "quantitative", "axis": null}, "y": {"field": "y", "type": "quantitative", "axis": null}}},
      {"data": {"values": [{"x": 0.268, "y": 47.9}]},
       "mark": {"type": "point", "shape": "circle", "size": 60, "filled": false, "strokeWidth": 1.5, "color": "black", "opacity": 1},
       "encoding": {"x": {"field": "x", "type": "quantitative", "axis": null}, "y": {"field": "y", "type": "quantitative", "axis": null}}},
      {"data": {"values": [{"x": 0.556, "y": 138, "t": "NNLO"}, {"x": 0.556, "y": 77.3, "t": "NLO"}, {"x": 0.556, "y": 47.9, "t": "CMS"}]},
       "mark": {"type": "text", "align": "left", "baseline": "middle", "font": "Liberation Serif", "fontSize": 21, "color": "black"},
       "encoding": {"x": {"field": "x", "type": "quantitative", "axis": null}, "y": {"field": "y", "type": "quantitative", "axis": null}, "text": {"field": "t"}}},
      {"data": {"values": [{"x": 1.156, "y": 98, "t": "2γNNLO"}]},
       "mark": {"type": "text", "align": "left", "baseline": "middle", "font": "Liberation Serif", "fontSize": 26, "color": "#ff0000"},
       "encoding": {"x": {"field": "x", "type": "quantitative", "axis": null}, "y": {"field": "y", "type": "quantitative", "axis": null}, "text": {"field": "t"}}},
      {"data": {"values": [{"x": 1.156, "y": 52.4, "t": "μ"}, {"x": 1.257, "y": 52.4, "t": "=μ"}, {"x": 1.423, "y": 52.4, "t": "=M"}]},
       "mark": {"type": "text", "align": "left", "baseline": "middle", "font": "Liberation Serif", "fontSize": 19, "color": "black"},
       "encoding": {"x": {"field": "x", "type": "quantitative", "axis": null}, "y": {"field": "y", "type": "quantitative", "axis": null}, "text": {"field": "t"}}},
      {"data": {"values": [{"x": 1.214, "y": 52.4, "t": "R"}, {"x": 1.380, "y": 52.4, "t": "F"}, {"x": 1.578, "y": 52.4, "t": "γγ"}]},
       "mark": {"type": "text", "align": "left", "baseline": "middle", "dy": 6, "font": "Liberation Serif", "fontSize": 12, "fontWeight": "bold", "color": "black"},
       "encoding": {"x": {"field": "x", "type": "quantitative", "axis": null}, "y": {"field": "y", "type": "quantitative", "axis": null}, "text": {"field": "t"}}}
    ],
    "resolve": {"axis": {"x": "independent", "y": "independent"}}
  }
],
"spacing": 73
}
